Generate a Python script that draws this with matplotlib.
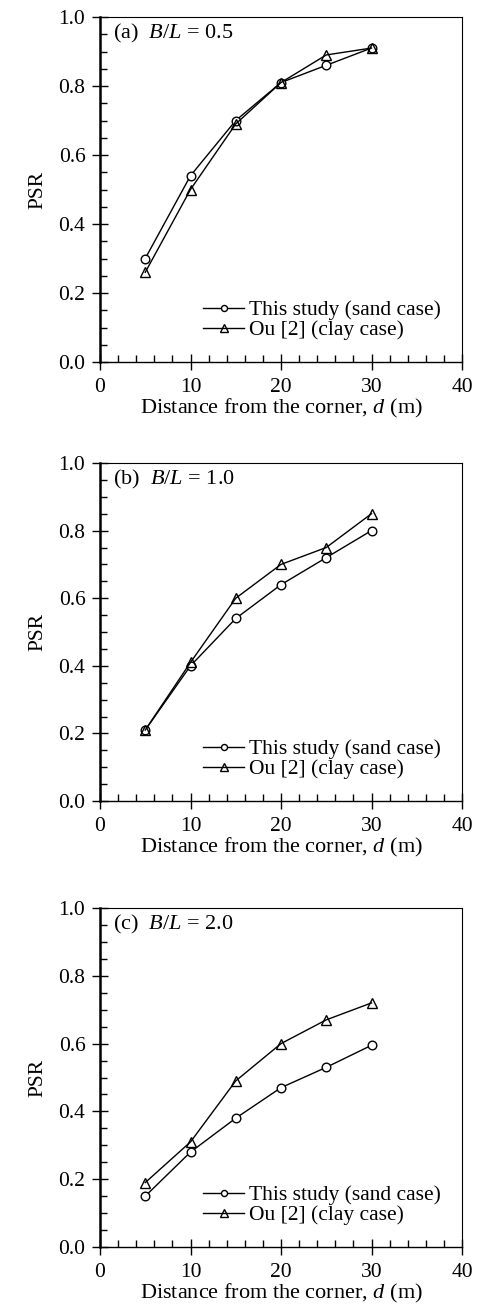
import matplotlib
matplotlib.use("Agg")
import matplotlib.pyplot as plt
from matplotlib.ticker import MultipleLocator, FormatStrFormatter

plt.rcParams['font.family'] = ['Liberation Serif', 'DejaVu Serif']
plt.rcParams['mathtext.fontset'] = 'custom'
plt.rcParams['mathtext.rm'] = 'Liberation Serif'
plt.rcParams['mathtext.it'] = 'Liberation Serif:italic'

d = [5, 10, 15, 20, 25, 30]
panel_titles = ["(a)  $B/L$ = 0.5", "(b)  $B/L$ = 1.0", "(c)  $B/L$ = 2.0"]
sand_a = [0.30, 0.54, 0.70, 0.81, 0.86, 0.91]
clay_a = [0.26, 0.50, 0.69, 0.81, 0.89, 0.91]
sand_b = [0.21, 0.40, 0.54, 0.64, 0.72, 0.80]
clay_b = [0.21, 0.41, 0.60, 0.70, 0.75, 0.85]
sand_c = [0.15, 0.28, 0.38, 0.47, 0.53, 0.595]
clay_c = [0.19, 0.31, 0.49, 0.60, 0.67, 0.72]
sand_label = "This study (sand case)"
clay_label = "Ou [2] (clay case)"

fig = plt.figure(figsize=(4.8, 13.13), dpi=100)
W, H = 480, 1313
left = 100 / W
width = 362 / W
panels_px = [(17, 362), (463, 801), (908, 1247)]

series = [(sand_a, clay_a), (sand_b, clay_b), (sand_c, clay_c)]
fs = 15.5
for i, (sand, clay) in enumerate(series):
    top, bot = panels_px[i]
    ax = fig.add_axes([left, 1 - bot / H, width, (bot - top) / H])
    ax.plot(d, sand, '-', color='black', lw=1.0, marker='o', ms=6.2,
            mfc='white', mec='black', mew=1.0, label=sand_label)
    ax.plot(d, clay, '-', color='black', lw=1.0, marker='^', ms=7.8,
            mfc='none', mec='black', mew=1.0, label=clay_label)
    ax.set_xlim(0, 40)
    ax.set_ylim(0, 1.0)
    ax.xaxis.set_major_locator(MultipleLocator(10))
    ax.xaxis.set_minor_locator(MultipleLocator(2))
    ax.yaxis.set_major_locator(MultipleLocator(0.2))
    ax.yaxis.set_minor_locator(MultipleLocator(0.05))
    ax.yaxis.set_major_formatter(FormatStrFormatter('%.1f'))
    ax.tick_params(which='major', direction='inout', length=11, width=1.0,
                   labelsize=fs, top=False, right=False)
    ax.tick_params(axis='x', which='major', pad=6)
    ax.tick_params(axis='y', which='major', pad=5)
    ax.tick_params(which='minor', direction='in', length=5, width=1.0,
                   top=False, right=False)
    ax.spines['left'].set_linewidth(1.8)
    ax.spines['bottom'].set_linewidth(1.0)
    for s in ['top', 'right']:
        ax.spines[s].set_linewidth(0.8)
    ax.set_ylabel("PSR", fontsize=fs, labelpad=8)
    ax.set_xlabel("Distance from the corner, $d$ (m)", fontsize=16, labelpad=0)
    ax.text(0.035, 0.985, panel_titles[i], transform=ax.transAxes,
            fontsize=16, va='top', ha='left')
    ax.legend(loc='lower right', frameon=False, fontsize=fs,
              handlelength=1.9, handletextpad=0.2, markerscale=0.7,
              borderaxespad=0.6, labelspacing=0.0)

fig.savefig("out.png", dpi=100)
